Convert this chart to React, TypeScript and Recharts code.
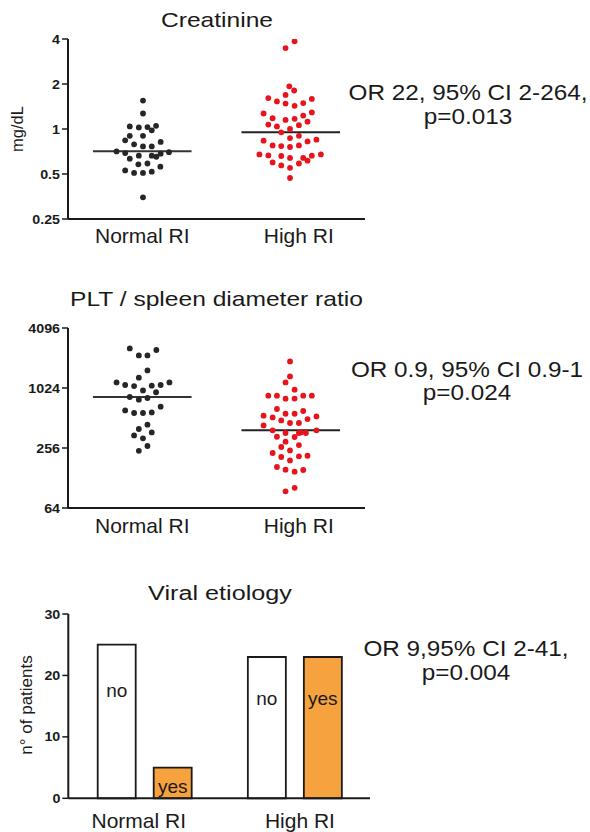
import React from 'react';
import { ScatterChart, Scatter, XAxis, YAxis, ReferenceLine, BarChart, Bar } from 'recharts';

// ---------- data ----------
const groupLabels = ['Normal RI', 'High RI'];

// Creatinine (mg/dL)
const creatNormal = [1.55, 1.27, 1.04, 1.025, 1.03, 1.05, 0.98, 0.9, 0.9, 0.84, 0.82, 0.79, 0.765, 0.765, 0.708, 0.69, 0.7, 0.663, 0.663, 0.652, 0.684, 0.633, 0.58, 0.588, 0.56, 0.528, 0.508, 0.508, 0.518, 0.349];
const creatNormalJitter = [0.005, 0.005, -0.084, -0.023, 0.035, 0.093, 0.064, -0.084, 0.005, -0.115, 0.124, -0.055, 0.005, 0.064, -0.173, -0.115, 0.18, -0.023, 0.064, 0.095, 0.124, -0.084, -0.026, 0.035, 0.122, -0.115, -0.055, 0.005, 0.064, 0.005];
const creatHigh = [3.48, 3.86, 1.93, 1.81, 1.69, 1.61, 1.53, 1.48, 1.43, 1.49, 1.59, 1.27, 1.18, 1.15, 1.17, 1.23, 1.29, 1.12, 1.07, 1.04, 1.0, 1.06, 0.95, 0.87, 0.9, 0.835, 0.826, 0.848, 0.777, 0.769, 0.758, 0.777, 0.676, 0.666, 0.66, 0.64, 0.64, 0.614, 0.663, 0.676, 0.598, 0.571, 0.55, 0.588, 0.47];
const creatHighJitter = [-0.035, 0.026, -0.01, 0.023, -0.035, -0.151, -0.093, -0.035, 0.026, 0.084, 0.142, -0.183, -0.122, -0.035, 0.026, 0.084, 0.142, 0.113, -0.151, -0.093, -0.005, 0.055, -0.064, -0.005, 0.055, -0.183, 0.113, 0.173, -0.122, -0.064, -0.005, 0.055, -0.211, -0.151, -0.064, -0.005, 0.084, 0.113, 0.142, 0.203, -0.122, -0.064, -0.005, 0.055, -0.005];
const creatMedians = [0.71, 0.95];
const creatTicks = [0.25, 0.5, 1, 2, 4];

// PLT / spleen diameter ratio
const pltNormal = [2556, 2175, 2175, 2464, 1538, 1299, 1165, 1097, 1071, 1080, 1097, 1165, 969, 928, 832, 781, 813, 610, 575, 575, 583, 665, 439, 397, 367, 342, 320, 268, 240];
const pltNormalJitter = [-0.084, -0.023, 0.035, 0.095, 0.035, -0.023, -0.173, -0.115, -0.055, 0.064, 0.124, 0.183, 0.005, 0.093, -0.084, -0.023, 0.035, -0.115, -0.055, 0.005, 0.064, 0.124, 0.035, -0.023, 0.064, -0.055, 0.005, 0.035, -0.023];
const pltHigh = [1894, 1339, 1165, 985, 857, 857, 800, 802, 857, 857, 630, 540, 519, 565, 565, 602, 484, 456, 456, 500, 531, 431, 385, 362, 362, 362, 385, 332, 330, 296, 274, 262, 242, 228, 208, 192, 211, 214, 165, 155, 148, 154, 94, 102, 367];
const pltHighJitter = [-0.005, -0.005, -0.035, 0.026, -0.151, -0.093, -0.035, 0.026, 0.084, 0.142, -0.093, -0.183, -0.122, -0.035, 0.026, 0.084, -0.064, -0.005, 0.055, 0.113, 0.173, -0.183, -0.122, -0.035, 0.055, 0.102, 0.173, -0.093, 0.026, -0.035, 0.055, -0.064, -0.005, -0.122, -0.064, -0.005, 0.055, 0.113, -0.093, -0.035, 0.026, 0.084, -0.035, 0.026, 0.068];
const pltMedians = [832, 385];
const pltTicks = [64, 256, 1024, 4096];

// Viral etiology (n° of patients)
const viralNo = [25, 23];
const viralYes = [5, 23];
const viralTicks = [0, 10, 20, 30];

// ---------- styling ----------
const FONT = 'Arial, "Liberation Sans", Helvetica, sans-serif';
const INK = '#1a1a1a';
const BLACK_DOT = '#262626';
const RED_DOT = '#e8141c';
const ORANGE = '#f6a23e';

const toPoints = (vals: number[], jit: number[], center: number) =>
  vals.map((v, i) => ({ x: center + jit[i], y: v }));

const YTick = (props: any) => {
  const { x, y, payload } = props;
  return (
    <g transform={`translate(${x},${y}) scale(1.14,1)`}>
      <text x={0} y={0} dy="0.36em" textAnchor="end" fontSize={12.5} fontWeight="bold" fill={INK} fontFamily={FONT}>
        {payload.value}
      </text>
    </g>
  );
};

const makeXTick = (dxs: number[], base: number, numeric: boolean) => (props: any) => {
  const { x, y, payload, index } = props;
  const i = numeric ? Math.round(Number(payload.value)) - 1 : index;
  const label = numeric ? groupLabels[i] : payload.value;
  return (
    <text x={Number(x) + dxs[i]} y={Number(y) + base} textAnchor="middle" fontSize={21} fill={INK} fontFamily={FONT}>
      {label}
    </text>
  );
};

const dotShape = (color: string) => (p: any) =>
  <circle cx={p.cx} cy={p.cy} r={2.9} fill={color} />;

const ST = ({ x, y, size, sx = 1, children, anchor = 'middle', rotate = 0 }: any) => (
  <g transform={`translate(${x},${y}) rotate(${rotate}) scale(${sx},1)`}>
    <text x={0} y={0} textAnchor={anchor} fontSize={size} fill={INK} fontFamily={FONT}>
      {children}
    </text>
  </g>
);

function DotPanel({ top, height, marginTop, xHeight, domain, ticks, normal, normalJ, high, highJ, medians, labelBase }: any) {
  const nPts = toPoints(normal, normalJ, 1);
  const hPts = toPoints(high, highJ, 2);
  const hw = 0.332;
  return (
    <div style={{ position: 'absolute', left: 0, top }}>
      <ScatterChart width={590} height={height} margin={{ top: marginTop, right: 225, bottom: 0, left: 8 }}>
        <XAxis
          type="number"
          dataKey="x"
          domain={[0.5, 2.5]}
          ticks={[1, 2]}
          interval={0}
          height={xHeight}
          axisLine={{ stroke: INK, strokeWidth: 2 }}
          tickLine={false}
          tickSize={0}
          tickMargin={0}
          tick={makeXTick([0, 8], labelBase, true)}
        />
        <YAxis
          type="number"
          dataKey="y"
          scale="log"
          domain={domain}
          ticks={ticks}
          interval={0}
          width={60}
          allowDataOverflow
          axisLine={{ stroke: INK, strokeWidth: 2 }}
          tickLine={{ stroke: INK, strokeWidth: 1.5 }}
          tickSize={6}
          tickMargin={2}
          tick={<YTick />}
        />
        <Scatter data={nPts} fill={BLACK_DOT} shape={dotShape(BLACK_DOT)} isAnimationActive={false} />
        <Scatter data={hPts} fill={RED_DOT} shape={dotShape(RED_DOT)} isAnimationActive={false} />
        <ReferenceLine
          segment={[{ x: 1 - hw, y: medians[0] }, { x: 1 + hw, y: medians[0] }]}
          stroke="#333"
          strokeWidth={2}
          ifOverflow="visible"
        />
        <ReferenceLine
          segment={[{ x: 2 - hw, y: medians[1] }, { x: 2 + hw, y: medians[1] }]}
          stroke="#222"
          strokeWidth={2}
          ifOverflow="visible"
        />
      </ScatterChart>
    </div>
  );
}

const makeBarLabel = (word: string) => (p: any) => {
  const x = Number(p.x), y = Number(p.y), w = Number(p.width), h = Number(p.height);
  const base = y + Math.max(25, 0.34 * h);
  return (
    <text x={x + w / 2} y={base} textAnchor="middle" fontSize={19} fill={INK} fontFamily={FONT}>
      {word}
    </text>
  );
};

export default function App() {
  const barData = groupLabels.map((c, i) => ({ cat: c, no: viralNo[i], yes: viralYes[i] }));
  return (
    <div style={{ position: 'absolute', left: 0, top: 0, width: 590, height: 832, background: '#fff', overflow: 'hidden' }}>
      <DotPanel
        top={0}
        height={259}
        marginTop={39}
        xHeight={40}
        domain={[0.25, 4]}
        ticks={creatTicks}
        normal={creatNormal}
        normalJ={creatNormalJitter}
        high={creatHigh}
        highJ={creatHighJitter}
        medians={creatMedians}
        labelBase={24}
      />
      <DotPanel
        top={280}
        height={268}
        marginTop={48}
        xHeight={40}
        domain={[64, 4096]}
        ticks={pltTicks}
        normal={pltNormal}
        normalJ={pltNormalJitter}
        high={pltHigh}
        highJ={pltHighJitter}
        medians={pltMedians}
        labelBase={25}
      />
      <div style={{ position: 'absolute', left: 0, top: 570 }}>
        <BarChart width={590} height={262} data={barData} margin={{ top: 44, right: 220, bottom: 0, left: 8.3 }} barSize={38} barGap={18}>
          <XAxis
            dataKey="cat"
            type="category"
            padding={{ left: 1.4, right: 0 }}
            height={33.7}
            interval={0}
            axisLine={{ stroke: INK, strokeWidth: 2 }}
            tickLine={false}
            tickSize={0}
            tickMargin={0}
            tick={makeXTick([-6, 5], 29.5, false)}
          />
          <YAxis
            type="number"
            domain={[0, 30]}
            ticks={viralTicks}
            interval={0}
            width={60}
            axisLine={{ stroke: INK, strokeWidth: 2 }}
            tickLine={{ stroke: INK, strokeWidth: 1.5 }}
            tickSize={6}
            tickMargin={2}
            tick={<YTick />}
          />
          <Bar dataKey="no" fill="#ffffff" stroke={INK} strokeWidth={1.8} isAnimationActive={false} label={makeBarLabel('no')} />
          <Bar dataKey="yes" fill={ORANGE} stroke={INK} strokeWidth={1.8} isAnimationActive={false} label={makeBarLabel('yes')} />
        </BarChart>
      </div>
      <svg width={590} height={832} style={{ position: 'absolute', left: 0, top: 0, pointerEvents: 'none' }}>
        <ST x={217} y={27} size={20.5} sx={1.2}>Creatinine</ST>
        <ST x={216.5} y={306} size={20.5} sx={1.2}>PLT / spleen diameter ratio</ST>
        <ST x={220} y={600} size={21} sx={1.2}>Viral etiology</ST>
        <ST x={22.5} y={129} size={16.5} rotate={-90}>mg/dL</ST>
        <ST x={32} y={705} size={17} rotate={-90}>n° of patients</ST>
        <ST x={468} y={100} size={22.5} sx={1.08}>OR 22, 95% CI 2-264,</ST>
        <ST x={468} y={123.5} size={22.5} sx={1.08}>p=0.013</ST>
        <ST x={467} y={377} size={22.5} sx={1.08}>OR 0.9, 95% CI 0.9-1</ST>
        <ST x={467} y={400} size={22.5} sx={1.08}>p=0.024</ST>
        <ST x={466} y={656} size={22.5} sx={1.08}>OR 9,95% CI 2-41,</ST>
        <ST x={466} y={680} size={22.5} sx={1.08}>p=0.004</ST>
      </svg>
    </div>
  );
}
